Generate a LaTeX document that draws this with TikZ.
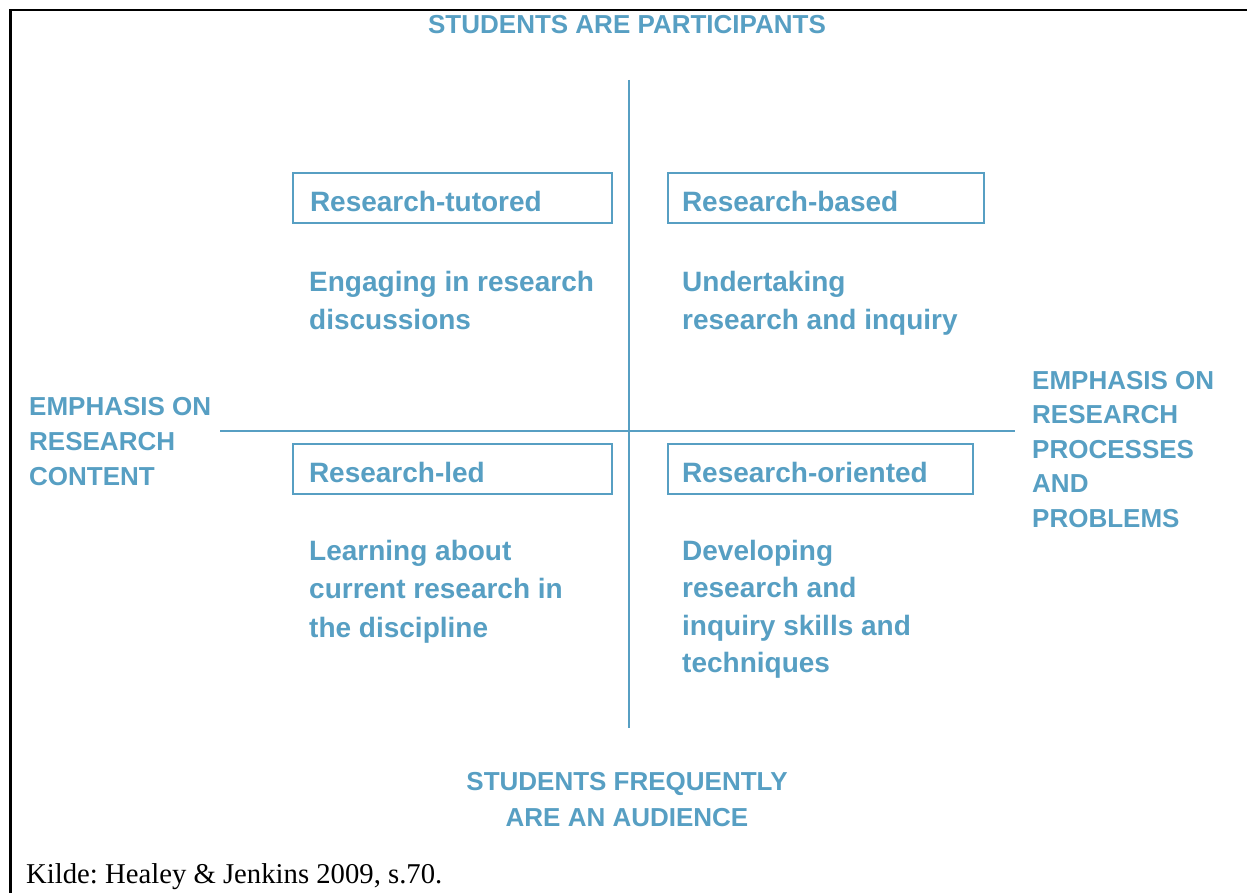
\documentclass[tikz,border=0pt]{standalone}
\usepackage{fontspec}
\setmainfont{Liberation Serif}
\newfontfamily\labfont{Liberation Sans}
\definecolor{hjblue}{RGB}{87,159,195}
\frenchspacing
\tikzset{
  axisline/.style={draw=hjblue, line width=1.5pt},
  quadbox/.style={draw=hjblue, line width=2pt, outer sep=0pt, minimum height=50pt,
    text height=28pt, text depth=0pt, align=left, text=hjblue,
    font=\labfont\bfseries\fontsize{28}{37.5}\selectfont},
  bodytext/.style={anchor=base west, align=left, inner sep=0pt, text=hjblue,
    font=\labfont\bfseries\fontsize{28}{37.5}\selectfont},
  caplabel/.style={inner sep=0pt, text=hjblue,
    font=\labfont\bfseries\fontsize{26}{35}\selectfont},
  frameline/.style={draw=black, line width=2.2pt}
}
\begin{document}
\begin{tikzpicture}[x=1pt,y=-1pt]
\useasboundingbox (0,0) rectangle (1247,893);
% frame (top and left edges of a table cell)
\coordinate (fTL) at (10.5,10);
\coordinate (fTR) at (1247,10);
\coordinate (fBL) at (10.5,893);
\draw[frameline] (fTR) -- (fTL) -- (fBL);
% axes
\coordinate (vTop) at (629,80);
\coordinate (vBot) at (629,728);
\coordinate (hL) at (220,431);
\coordinate (hR) at (1015,431);
\draw[axisline] (vTop) -- (vBot);
\draw[axisline] (hL) -- (hR);
% title and bottom label (base anchor = last line baseline)
\node[caplabel, anchor=base, align=center] (top) at (627,34) {STUDENTS ARE PARTICIPANTS};
\node[caplabel, anchor=base, align=center, font=\labfont\bfseries\fontsize{26}{36}\selectfont] (bottom) at (627,826) {STUDENTS FREQUENTLY\\ARE AN AUDIENCE};
% side labels
\node[caplabel, anchor=base west, align=left] (left) at (29,485) {EMPHASIS ON\\RESEARCH\\CONTENT};
\begin{scope}
\clip (0,0) rectangle (1214,893);
\node[caplabel, anchor=base west, align=left, font=\labfont\bfseries\fontsize{26}{34.5}\selectfont] (right) at (1032,527) {EMPHASIS ON\\RESEARCH\\PROCESSES\\AND\\PROBLEMS};
\end{scope}
% boxes
\node[quadbox, minimum width=319pt, inner xsep=17pt, text width=285pt] (tutored) at (452.5,198) {Research-tutored};
\node[quadbox, minimum width=316pt, inner xsep=14pt, text width=288pt] (based) at (826,198) {Research-based};
\node[quadbox, minimum width=319pt, inner xsep=16pt, text width=287pt] (led) at (452.5,468.5) {Research-led};
\node[quadbox, minimum width=305pt, inner xsep=14pt, text width=277pt] (oriented) at (820.5,468.5) {Research-oriented};
% descriptions (anchored at the last line's baseline)
\node[bodytext] (tutoredtxt) at (309,329) {Engaging in research\\discussions};
\node[bodytext] (basedtxt) at (682,329) {Undertaking\\research and inquiry};
\node[bodytext, font=\labfont\bfseries\fontsize{28}{38.5}\selectfont] (ledtxt) at (309,637) {Learning about\\current research in\\the discipline};
\node[bodytext] (orientedtxt) at (682,672.5) {Developing\\research and\\inquiry skills and\\techniques};
% source
\node[anchor=base west, inner sep=0pt, font=\fontsize{28.7}{34}\selectfont] (source) at (26,883) {Kilde: Healey \& Jenkins 2009, s.70.};
\end{tikzpicture}
\end{document}
